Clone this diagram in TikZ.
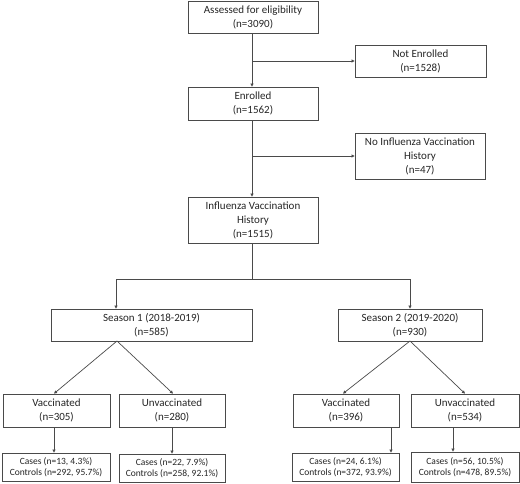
\documentclass[tikz,border=0pt]{standalone}
\usepackage{fontspec}
\setmainfont{Carlito}
\usetikzlibrary{arrows.meta}
\definecolor{edge}{HTML}{4A4A4A}
\definecolor{txt}{HTML}{262626}
\begin{document}
\begin{tikzpicture}[x=1pt,y=-1pt,
  box/.style={draw=edge, line width=0.8pt, fill=white, text=txt, align=center, inner sep=0pt,
    font=\fontsize{11}{14}\selectfont},
  small/.style={box, font=\fontsize{9.5}{10.5}\selectfont},
  conn/.style={draw=edge, line width=0.7pt},
  arr/.style={conn, -{Triangle[length=3pt,width=3pt]}}]
\useasboundingbox (0,0) rectangle (520,483);
\node[box, minimum width=130pt, minimum height=32pt] (assess) at (253,17) {Assessed for eligibility\\(n=3090)};
\node[box, minimum width=131pt, minimum height=32pt] (notenr) at (420.5,61) {Not Enrolled\\(n=1528)};
\node[box, minimum width=130pt, minimum height=33pt] (enr) at (253,103.5) {Enrolled\\(n=1562)};
\node[box, minimum width=130pt, minimum height=46pt] (noinf) at (420,156) {No Influenza Vaccination\\History\\(n=47)};
\node[box, minimum width=130pt, minimum height=46pt] (ivh) at (253,220) {Influenza Vaccination\\History\\(n=1515)};
\node[box, minimum width=201pt, minimum height=32pt] (s1) at (151.5,325) {Season 1 (2018-2019)\\(n=585)};
\node[box, minimum width=144pt, minimum height=32pt] (s2) at (410,325) {Season 2 (2019-2020)\\(n=930)};
\node[box, minimum width=107pt, minimum height=33pt] (v1) at (56.5,410.5) {Vaccinated\\(n=305)};
\node[box, minimum width=106pt, minimum height=33pt] (u1) at (172,410.5) {Unvaccinated\\(n=280)};
\node[box, minimum width=106pt, minimum height=33pt] (v2) at (346,410.5) {Vaccinated\\(n=396)};
\node[box, minimum width=108pt, minimum height=33pt] (u2) at (465,410.5) {Unvaccinated\\(n=534)};
\node[small, minimum width=108pt, minimum height=28pt] (c1) at (56,467) {Cases (n=13, 4.3\%)\\Controls (n=292, 95.7\%)};
\node[small, minimum width=106pt, minimum height=28pt] (c2) at (172,468) {Cases (n=22, 7.9\%)\\Controls (n=258, 92.1\%)};
\node[small, minimum width=107pt, minimum height=28pt] (c3) at (345.5,467) {Cases (n=24, 6.1\%)\\Controls (n=372, 93.9\%)};
\node[small, minimum width=108pt, minimum height=30pt] (c4) at (465,467) {Cases (n=56, 10.5\%)\\Controls (n=478, 89.5\%)};
% trunk
\coordinate (b1) at (252,61);
\coordinate (b2) at (252,156);
\coordinate (split) at (252,279);
\coordinate (sl) at (116,279);
\coordinate (sr) at (410,279);
\draw[arr] (assess.south -| b1) -- (enr.north -| b1);
\draw[arr] (b1) -- (notenr.west |- b1);
\draw[arr] (enr.south -| b2) -- (ivh.north -| b2);
\draw[arr] (b2) -- (noinf.west |- b2);
\draw[conn] (ivh.south -| split) -- (split);
\draw[arr] (split) -- (sl) -- (s1.north -| sl);
\draw[arr] (split) -- (sr) -- (s2.north -| sr);
% season branches
\coordinate (s1b) at (117,341);
\draw[arr] (s1b) -- (v1.north -| 54,0);
\draw[arr] (s1b) -- (u1.north -| 173,0);
\coordinate (s2b) at (410,341);
\draw[arr] (s2b) -- (v2.north -| 343,0);
\draw[arr] (s2b) -- (u2.north -| 465,0);
% to cases
\draw[arr] (v1.south -| 54,0) -- (c1.north -| 54,0);
\draw[arr] (u1.south -| 172,0) -- (c2.north -| 172,0);
\draw[arr] (v2.south -| 391,0) -- (c3.north -| 391,0);
\draw[arr] (u2.south -| 453,0) -- (c4.north -| 453,0);
\end{tikzpicture}
\end{document}
